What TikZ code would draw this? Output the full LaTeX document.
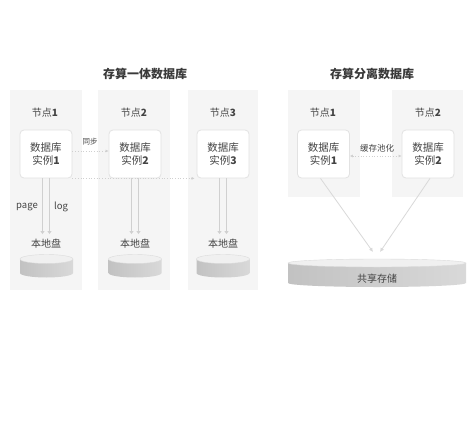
\documentclass[tikz,border=0pt]{standalone}
\usepackage{fontspec}
\setmainfont{Noto Sans CJK SC}
\usetikzlibrary{arrows.meta}
\definecolor{panelbg}{HTML}{F5F5F5}
\definecolor{boxline}{HTML}{E2E2E2}
\definecolor{txt}{HTML}{444444}
\definecolor{ttl}{HTML}{3A3A3A}
\definecolor{arr}{HTML}{D0D0D0}
\definecolor{dotc}{HTML}{D0D0D0}
\tikzset{
  panelbox/.style={fill=panelbg, draw=none, inner sep=0pt},
  inst/.style={fill=white, draw=boxline, line width=0.8pt, rounded corners=4pt,
    minimum width=52pt, minimum height=48pt, align=center, text=txt,
    font=\fontsize{10.5}{12.5}\selectfont, inner sep=0pt},
  nodelbl/.style={text=txt, font=\fontsize{10}{12}\selectfont, inner sep=1pt},
  ttlbl/.style={text=ttl, font=\fontsize{12}{14}\selectfont\bfseries, inner sep=1pt},
  small/.style={text=txt, font=\fontsize{7.5}{9}\selectfont, inner sep=1pt},
  dblarrow/.style={draw=arr, line width=1.8pt, -{Latex[length=3pt,width=4.5pt]}},
  dotarrow/.style={draw=dotc, line width=0.7pt, dotted, -{Latex[length=3pt,width=3pt]}},
  slant/.style={draw=arr!80, line width=0.8pt, -{Latex[length=4pt,width=4pt]}},
  disktop/.style={fill=white!94!black, draw=white!86!black, line width=0.4pt},
}
\newcommand{\mydisk}[5]{% cx, top y, bottom y, rx, ry
  \shade[left color=white!76!black, middle color=white!94!black, right color=white!85!black]
    (#1-#4,#2) -- (#1-#4,#3) arc[start angle=180, end angle=360, x radius=#4pt, y radius=#5pt]
    -- (#1+#4,#2) -- cycle;
  \draw[disktop] (#1,#2) ellipse[x radius=#4pt, y radius=#5pt];
}
\begin{document}
\begin{tikzpicture}[x=1pt,y=-1pt]
\useasboundingbox (0,0) rectangle (474,442);
\fill[white] (0,0) rectangle (474,442);

% titles
\node[ttlbl] (T1) at (145,74) {存算一体数据库};
\node[ttlbl] (T2) at (372,74) {存算分离数据库};

% left panels
\node[panelbox, minimum width=72pt, minimum height=200pt] (p1) at (46,190) {};
\node[panelbox, minimum width=72pt, minimum height=200pt] (p2) at (134,190) {};
\node[panelbox, minimum width=70pt, minimum height=200pt] (p3) at (223,190) {};

% right panels
\node[panelbox, minimum width=72pt, minimum height=107pt] (p4) at (324,143.5) {};
\node[panelbox, minimum width=71pt, minimum height=107pt] (p5) at (427.5,143.5) {};

% node labels
\node[nodelbl] (n1) at (45,113) {节点\textbf{1}};
\node[nodelbl] (n2) at (134,113) {节点\textbf{2}};
\node[nodelbl] (n3) at (223,113) {节点\textbf{3}};
\node[nodelbl] (n4) at (323,113) {节点\textbf{1}};
\node[nodelbl] (n5) at (428,113) {节点\textbf{2}};

% instances
\node[inst] (i1) at (46,154) {数据库\\实例\textbf{1}};
\node[inst] (i2) at (135,154) {数据库\\实例\textbf{2}};
\node[inst] (i3) at (223,154) {数据库\\实例\textbf{3}};
\node[inst] (i4) at (323.5,154) {数据库\\实例\textbf{1}};
\node[inst] (i5) at (428,154) {数据库\\实例\textbf{2}};

% local disk labels
\node[nodelbl] (l1) at (46,244) {本地盘};
\node[nodelbl] (l2) at (135,244) {本地盘};
\node[nodelbl] (l3) at (223,244) {本地盘};

% disks
\mydisk{46.5}{259}{273}{26.5}{4.5}
\mydisk{135}{259}{273}{26.5}{4.5}
\mydisk{223}{259}{273}{26.5}{4.5}
\mydisk{377}{263}{283}{89}{4}
\node[nodelbl] (s) at (377,279) {共享存储};

% double arrows
\foreach \i/\l in {i1/l1,i2/l2,i3/l3}{
  \draw[dblarrow] ([xshift=-3.5pt]\i.south) -- ([xshift=-3.5pt,yshift=4pt]\l.north);
  \draw[dblarrow] ([xshift=3.5pt]\i.south) -- ([xshift=3.5pt,yshift=4pt]\l.north);
}
\node[small, font=\fontsize{9.5}{10}\selectfont] (pg) at (27,207) {page};
\node[small, font=\fontsize{9.5}{10}\selectfont] (lg) at (61,207) {log};

% sync
\draw[dotarrow] ([yshift=3pt]i1.east) -- ([yshift=3pt]i2.west);
\node[small] (sy) at (90,142) {同步};
\draw[dotarrow] (i1.south east) -- ([xshift=-2pt]i3.south west);

% cache pooling
\draw[dotc, line width=0.7pt, dotted, {Latex[length=3pt,width=3pt]}-{Latex[length=3pt,width=3pt]}]
  ([yshift=-2pt]i4.east) -- ([yshift=-2pt]i5.west);
\node[small, font=\fontsize{8.5}{10}\selectfont] (cp) at (377,148) {缓存池化};

% slanted arrows to shared storage
\coordinate (e1) at (373,252);
\coordinate (e2) at (380,252);
\draw[slant] ([xshift=-3pt]i4.south) -- (e1);
\draw[slant] ([xshift=2pt]i5.south) -- (e2);
\end{tikzpicture}
\end{document}
